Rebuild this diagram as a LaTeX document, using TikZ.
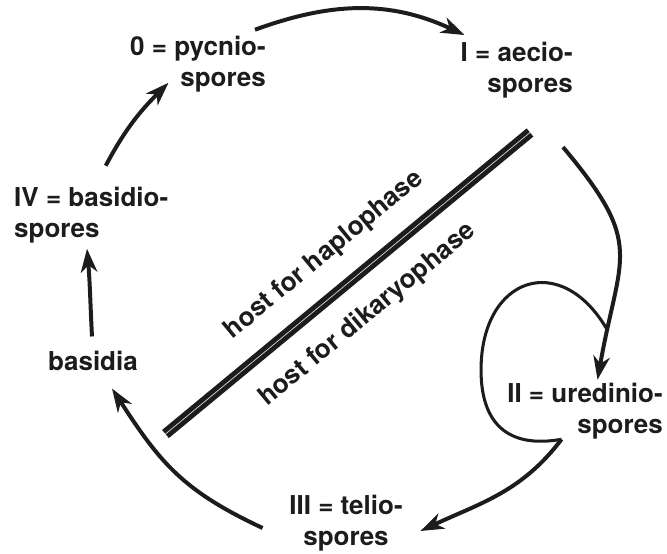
\documentclass[tikz,border=0pt]{standalone}
\usepackage{fontspec}
\setmainfont{TeX Gyre Heros}
\usepackage{tikz}
\usetikzlibrary{arrows.meta,calc}
\definecolor{ink}{RGB}{28,28,30}

\begin{document}
\begin{tikzpicture}[
      spore/.style={inner sep=0pt, align=center, text=ink,
                    font=\fontsize{22.2}{26.5}\selectfont\bfseries},
      arr/.style={-{Stealth[length=20pt,width=14pt,inset=6pt]}, line width=3.4pt, draw=ink},
      loopline/.style={line width=2.6pt, draw=ink},
      bar/.style={draw=ink, line width=4.2pt, double=black!15, double distance=0.6pt},
      host/.style={spore, sloped}]
    \useasboundingbox (0,0) rectangle (20.01,16.59);
    \node[spore, align=right, anchor=east] (pyc) at (7.98,14.67) {0 = pycnio-\\spores};
    \node[spore, align=right, anchor=east] (aec) at (17.19,14.48) {I = aecio-\\spores};
    \node[spore, align=left, anchor=west] (IV) at (0.42,10.14) {IV = basidio-\\spores};
    \node[spore] (bas) at (2.79,5.775) {basidia};
    \node[spore, align=right, anchor=east] (II) at (19.89,4.26) {II = uredinio-\\spores};
    \node[spore] (III) at (10.38,0.9) {III = telio-\\spores};
    % the cycle
    \draw[arr] ([shift={(-0.33,0.18)}]pyc.north east) to[out=20,in=155]
          ([shift={(0.12,0.21)}]aec.north west);
    \draw[arr] ([shift={(-0.3,-1.455)}]aec.south east) to[out=-50,in=80,looseness=1.4]
          coordinate[pos=0.85] (lp) ([shift={(0.375,0.09)}]II.north);
    \coordinate (lft) at ([shift={(-0.78,1.23)}]II.west);
    \coordinate (cusp) at ([shift={(-0.705,0)}]II.south);
    \draw[loopline] (lp) to[out=120,in=90,looseness=1.8] (lft)
          to[out=270,in=190,looseness=1.3] (cusp);
    \draw[arr] (cusp) to[out=233,in=25] ([shift={(0.525,-0.24)}]III.east);
    \draw[arr] ([shift={(-0.795,-0.15)}]III.west) to[out=155,in=-57,looseness=1.1]
          ([shift={(0.57,-0.54)}]bas.south);
    \draw[arr] ([shift={(-0.03,0.42)}]bas.north) to[out=93,in=-85]
          ([shift={(2.19,-0.165)}]IV.south west);
    \draw[arr] ([shift={(0.435,0.63)}]IV.north) to[out=62,in=225]
          ([shift={(-0.885,0.285)}]pyc.south);
    % host line
    \coordinate (b1) at (4.965,3.57);
    \coordinate (b2) at (15.9,12.615);
    \draw[bar] (b1) -- node[host, above=0.66cm] {host for haplophase}
          node[host, below=0.66cm, pos=0.49] {host for dikaryophase} (b2);
  \end{tikzpicture}
\end{document}
